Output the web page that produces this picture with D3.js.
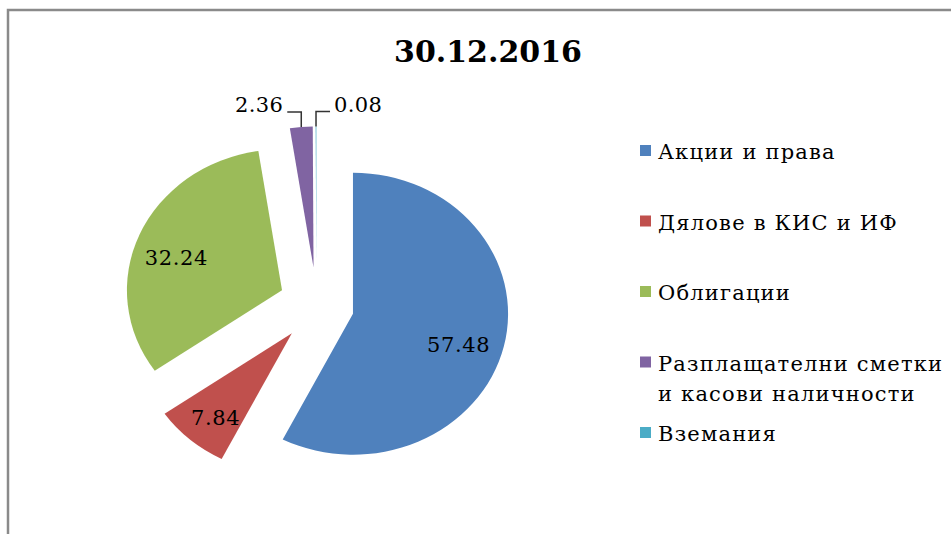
<!DOCTYPE html>
<html>
<head>
<meta charset="utf-8">
<script src="https://cdn.jsdelivr.net/npm/d3@7"></script>
<style>
  body { margin: 0; background: #fff; }
  text { font-family: "DejaVu Serif", serif; fill: #000; }
</style>
</head>
<body>
<div id="chart"></div>
<script>
// data
var title = "30.12.2016";
var categories = ["Акции и права", "Дялове в КИС и ИФ", "Облигации",
                  "Разплащателни сметки и касови наличности", "Вземания"];
var legendLines = [["Акции и права"], ["Дялове в КИС и ИФ"], ["Облигации"],
                   ["Разплащателни сметки", "и касови наличности"], ["Вземания"]];
var values = [57.48, 7.84, 32.24, 2.36, 0.08];
var colors = ["#4F81BD", "#C0504D", "#9BBB59", "#8064A2", "#4BACC6"];
var outsideLabels = [false, false, false, true, true];

var width = 951, height = 534;

var svg = d3.select("#chart").append("svg")
    .attr("width", width)
    .attr("height", height);

// frame
svg.append("path")
    .attr("d", "M8," + height + "V10H" + width)
    .attr("fill", "none")
    .attr("stroke", "#8a8a8a")
    .attr("stroke-width", 2.5);

// title
svg.append("text")
    .attr("x", 488)
    .attr("y", 62)
    .attr("text-anchor", "middle")
    .style("font-size", "30px")
    .style("font-weight", "bold")
    .text(title);

// pie
var cx = 316.5, cy = 305, r = 141, sx = 1.1, explode = 37.5;

var pie = d3.pie().sort(null).value(function(d) { return d; });
var arcs = pie(values);

var arc = d3.arc().innerRadius(0).outerRadius(r);
var labelArc = d3.arc().innerRadius(r * 0.72).outerRadius(r * 0.72);
var edgeArc = d3.arc().innerRadius(r).outerRadius(r);

function offset(d) {
  var a = (d.startAngle + d.endAngle) / 2;
  return [cx + explode * Math.sin(a), cy - explode * Math.cos(a)];
}

var g = svg.append("g");

g.selectAll("path.slice")
  .data(arcs)
  .enter().append("path")
    .attr("class", "slice")
    .attr("fill", function(d, i) { return colors[i]; })
    .attr("transform", function(d) {
      var o = offset(d);
      return "translate(" + o[0] + "," + o[1] + ") scale(" + sx + ",1)";
    })
    .attr("d", arc);

// inside labels
g.selectAll("text.inlabel")
  .data(arcs.filter(function(d, i) { return !outsideLabels[i]; }))
  .enter().append("text")
    .attr("class", "inlabel")
    .attr("x", function(d) { return offset(d)[0] + labelArc.centroid(d)[0] * sx - 3; })
    .attr("y", function(d) { return offset(d)[1] + labelArc.centroid(d)[1]; })
    .attr("dy", "0.7em")
    .attr("text-anchor", "middle")
    .style("font-size", "21px")
    .style("letter-spacing", "0.6px")
    .text(function(d) { return d.value.toFixed(2); });

// outside labels with leader lines
arcs.forEach(function(d, i) {
  if (!outsideLabels[i]) return;
  var o = offset(d);
  var e = edgeArc.centroid(d);
  var x0 = o[0] + e[0] * sx, y0 = o[1] + e[1];
  var y1 = y0 - 15;
  var dir = (i === 3) ? -1 : 1;
  var x1 = x0 + dir * 14;
  g.append("path")
      .attr("d", "M" + x0 + "," + y0 + "V" + y1 + "H" + x1)
      .attr("fill", "none")
      .attr("stroke", "#333")
      .attr("stroke-width", 1.5);
  g.append("text")
      .attr("x", x1 + dir * 4)
      .attr("y", y1)
      .attr("text-anchor", dir < 0 ? "end" : "start")
      .style("font-size", "21px")
      .style("letter-spacing", "0.4px")
      .text(d.value.toFixed(2));
});

// legend
var legend = svg.append("g").attr("transform", "translate(640,0)");
var legendY = d3.scaleLinear().domain([0, 1]).range([152, 222.5]);

legendLines.forEach(function(lines, i) {
  var y = legendY(i);
  legend.append("rect")
      .attr("x", 0)
      .attr("y", y - 7)
      .attr("width", 11)
      .attr("height", 11)
      .attr("fill", colors[i]);
  lines.forEach(function(line, j) {
    legend.append("text")
        .attr("x", 18)
        .attr("y", y + j * 30)
        .attr("dy", "0.35em")
        .style("font-size", "21px")
        .style("letter-spacing", "1.2px")
        .text(line);
  });
});
</script>
</body>
</html>
